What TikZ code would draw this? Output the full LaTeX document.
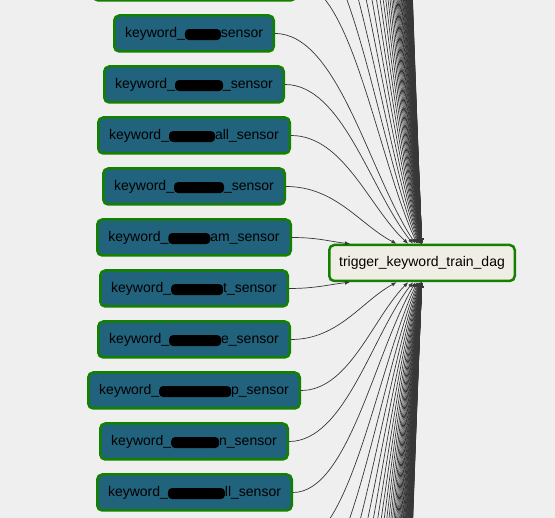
\documentclass[tikz,border=0pt]{standalone}
\usepackage{fontspec}
\setmainfont{Liberation Sans}
\usetikzlibrary{arrows.meta,calc}
\definecolor{bg}{RGB}{239,239,239}
\definecolor{sensorfill}{RGB}{33,98,124}
\definecolor{okgreen}{RGB}{20,128,0}
\definecolor{cream}{RGB}{240,237,228}
\definecolor{edgegray}{RGB}{55,55,55}
\newcommand{\blot}[1]{\tikz[baseline=0pt]\fill[black,draw=none,rounded corners=4pt] (0pt,-3pt) rectangle (#1pt,8pt);}

\begin{document}
\begin{tikzpicture}[x=1pt,y=-1pt,
    sensor/.style={draw=okgreen,line width=2.5pt,fill=sensorfill,rounded corners=5pt,
      minimum height=36pt,inner xsep=0pt,font=\fontsize{14}{16}\selectfont},
    trig/.style={draw=okgreen,line width=2.5pt,fill=cream,rounded corners=5pt,
      minimum height=36pt,minimum width=185.5pt,inner xsep=0pt,font=\fontsize{14}{16}\selectfont},
    edge/.style={draw=edgegray,line width=0.7pt,-{Latex[length=5pt,width=4pt]}}]
  \useasboundingbox (0,0) rectangle (555,518);
  \clip (0,0) rectangle (555,518);
  \fill[bg] (0,0) rectangle (555,518);

  \node[sensor,minimum width=202.5pt] (k1) at (194.5,-17.5) {};
  \node[sensor,minimum width=159.5pt] (k2) at (194,33.5) {keyword\_\blot{36}sensor};
  \node[sensor,minimum width=179.5pt] (k3) at (194,84.5) {keyword\_\blot{48}\_sensor};
  \node[sensor,minimum width=191.5pt] (k4) at (194,135.5) {keyword\_\blot{46}all\_sensor};
  \node[sensor,minimum width=181.5pt] (k5) at (194,186.5) {keyword\_\blot{50}\_sensor};
  \node[sensor,minimum width=193.5pt] (k6) at (194,237.5) {keyword\_\blot{42}am\_sensor};
  \node[sensor,minimum width=187.5pt] (k7) at (194,288.5) {keyword\_\blot{52}t\_sensor};
  \node[sensor,minimum width=191.5pt] (k8) at (194,339.5) {keyword\_\blot{52}e\_sensor};
  \node[sensor,minimum width=211.5pt] (k9) at (194,390.5) {keyword\_\blot{72}p\_sensor};
  \node[sensor,minimum width=187.5pt] (k10) at (194,441.5) {keyword\_\blot{48}n\_sensor};
  \node[sensor,minimum width=194.5pt] (k11) at (194.5,492.5) {keyword\_\blot{57}ll\_sensor};

  \node[trig] (t) at (422,263) {trigger\_keyword\_train\_dag};

  % sensors above and below the visible ones
  \foreach \s/\i in {k6/1,k5/2,k4/3,k3/4,k2/5,k1/6}
    \coordinate (ku\i) at (\s.east);
  \foreach \i in {7,...,60}
    \coordinate (ku\i) at (296,{237.5-51*(\i-1)});
  \foreach \s/\i in {k7/1,k8/2,k9/3,k10/4,k11/5}
    \coordinate (kd\i) at (\s.east);
  \foreach \i in {6,...,60}
    \coordinate (kd\i) at (296,{288.5+51*(\i-1)});

  \foreach \i in {1,...,60}
    \draw[edge] let \p1=(ku\i), \p2=([xshift={-72/(\i^1.5)}]t.north) in
      (\p1) .. controls ({\x1+0.45*(\x2-\x1)},\y1) and ({\x2-0.33*(\x2-\x1)},{\y2+0.33*(\y1-\y2)}) .. (\p2);
  \foreach \i in {1,...,60}
    \draw[edge] let \p1=(kd\i), \p2=([xshift={-72/(\i^1.5)}]t.south) in
      (\p1) .. controls ({\x1+0.45*(\x2-\x1)},\y1) and ({\x2-0.33*(\x2-\x1)},{\y2+0.33*(\y1-\y2)}) .. (\p2);
\end{tikzpicture}
\end{document}
